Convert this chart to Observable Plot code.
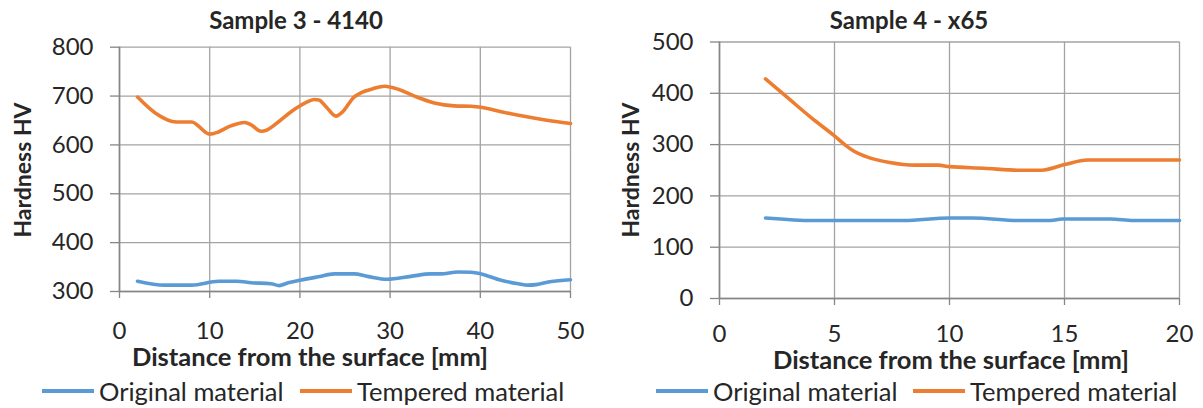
<!DOCTYPE html>
<html>
<head>
<meta charset="utf-8">
<script src="https://cdn.jsdelivr.net/npm/d3@7"></script>
<script src="https://cdn.jsdelivr.net/npm/@observablehq/plot@0.6"></script>
<style>
  html, body { margin: 0; padding: 0; background: #fff; }
  #wrap { position: relative; width: 1203px; height: 408px; overflow: hidden; font-family: Lato, "Open Sans", sans-serif; color: #262626; }
  .abs { position: absolute; white-space: nowrap; transform: translate(-50%, -50%); }
  .title { font-weight: bold; font-size: 24px; }
  .xlab { font-weight: bold; font-size: 25.5px; }
  .ylab { font-weight: bold; font-size: 23px; transform: translate(-50%, -50%) rotate(-90deg); }
  .leg { position: absolute; font-size: 25.5px; white-space: nowrap; display: flex; align-items: center; transform: translateY(-50%); }
  .sw { display: inline-block; width: 52px; height: 4px; margin-right: 5px; }
  .chart { position: absolute; top: 0; }
</style>
</head>
<body>
<div id="wrap">
  <div class="abs title" style="left:296px; top:19px">Sample 3 - 4140</div>
  <div class="abs title" style="left:909px; top:19px">Sample 4 - x65</div>
  <div class="abs ylab" style="left:22px; top:170px">Hardness HV</div>
  <div class="abs ylab" style="left:630px; top:170px">Hardness HV</div>
  <div class="abs xlab" style="left:310px; top:356px">Distance from the surface [mm]</div>
  <div class="abs xlab" style="left:951px; top:359px">Distance from the surface [mm]</div>
  <div class="leg" style="left:42px; top:391px"><span class="sw" style="background:#5b9bd5"></span>Original material</div>
  <div class="leg" style="left:300px; top:391px"><span class="sw" style="background:#ed7d31"></span>Tempered material</div>
  <div class="leg" style="left:656px; top:391px"><span class="sw" style="background:#5b9bd5"></span>Original material</div>
  <div class="leg" style="left:913px; top:391px"><span class="sw" style="background:#ed7d31"></span>Tempered material</div>
  <div id="c1" class="chart" style="left:0px"></div>
  <div id="c2" class="chart" style="left:600px"></div>
</div>
<script>
// ---- Sample 3 - 4140 ----
const s3OriginalX = [2, 5, 8, 11, 13, 14.6, 16.8, 17.7, 18.7, 20, 22, 23.8, 26, 27.5, 29.7, 32.3, 34.5, 35.6, 37.5, 39, 40.1, 42.3, 44.2, 45.3, 46.2, 47.7, 50];
const s3OriginalY = [321, 313, 313, 321, 321, 318, 316, 312, 318, 323, 330, 336, 336, 331, 325, 331, 336, 336, 340, 339.5, 336, 323, 316, 313, 314, 320, 324];
const s3TemperedX = [2, 4, 6.3, 8, 10, 10.9, 12.2, 13.9, 14.6, 15.7, 16.3, 17.6, 19.1, 20.6, 21.6, 22.1, 23, 24, 24.7, 26, 26.8, 28.1, 29.4, 30.9, 32.7, 34.9, 37.1, 39, 40.1, 42.3, 44.7, 47.2, 50];
const s3TemperedY = [698, 665, 647, 647, 622, 626, 638, 646, 641, 628, 630, 647, 669, 686, 693, 692, 676, 659, 667, 698, 707, 715, 720, 714, 700, 686, 680, 679, 677, 668, 659, 651, 644];
const s3XTicks = [0, 10, 20, 30, 40, 50];
const s3YTicks = [300, 400, 500, 600, 700, 800];

// ---- Sample 4 - x65 ----
const s4OriginalX = [2, 4.1, 8, 10, 11, 13, 14.4, 14.9, 17, 18, 20];
const s4OriginalY = [157, 152, 152, 157, 157, 152, 152, 155, 155, 152, 152];
const s4TemperedX = [2, 3, 4, 5, 5.5, 5.85, 6.35, 7.4, 8.5, 9.5, 10, 11.5, 13, 14, 15, 16, 17, 20];
const s4TemperedY = [428, 390, 352, 317, 298, 287, 277, 265, 260, 260, 257, 254, 250, 250, 261, 270, 270, 270];
const s4XTicks = [0, 5, 10, 15, 20];
const s4YTicks = [0, 100, 200, 300, 400, 500];

const blue = "#5b9bd5", orange = "#ed7d31";
const gridColor = "#a3a3a3", axisColor = "#868686";

function toRows(xs, ys) { return xs.map((x, i) => ({x, y: ys[i]})); }

function chart(opts) {
  const {width, height, ml, mr, mt, mb, xDomain, yDomain, xTicks, yTicks, orig, temp, xPad} = opts;
  return Plot.plot({
    width, height,
    marginLeft: ml, marginRight: mr, marginTop: mt, marginBottom: mb,
    x: {domain: xDomain},
    y: {domain: yDomain},
    style: {fontFamily: "Lato, 'Open Sans', sans-serif", fontSize: "24px", color: "#262626", background: "transparent", overflow: "visible"},
    marks: [
      Plot.gridX(xTicks, {stroke: gridColor, strokeOpacity: 1, strokeWidth: 1.3}),
      Plot.gridY(yTicks, {stroke: gridColor, strokeOpacity: 1, strokeWidth: 1.3}),
      Plot.axisX(xTicks, {tickSize: 7, tickPadding: xPad, label: null, stroke: axisColor, fill: "#262626", strokeWidth: 1.3}),
      Plot.axisY(yTicks, {tickSize: 9, tickPadding: 17, label: null, stroke: axisColor, fill: "#262626", strokeWidth: 1.3}),
      Plot.ruleX([xDomain[0]], {stroke: axisColor, strokeWidth: 1.6}),
      Plot.ruleY([yDomain[0]], {stroke: axisColor, strokeWidth: 1.6}),
      Plot.line(orig, {x: "x", y: "y", stroke: blue, strokeWidth: 3.6, curve: "monotone-x"}),
      Plot.line(temp, {x: "x", y: "y", stroke: orange, strokeWidth: 3.6, curve: "monotone-x"})
    ]
  });
}

document.getElementById("c1").appendChild(chart({
  width: 600, height: 375, ml: 119, mr: 30, mt: 46.7, mb: 84,
  xDomain: [0, 50], yDomain: [300, 800], xTicks: s3XTicks, yTicks: s3YTicks,
  orig: toRows(s3OriginalX, s3OriginalY), temp: toRows(s3TemperedX, s3TemperedY), xPad: 23
}));
document.getElementById("c2").appendChild(chart({
  width: 603, height: 375, ml: 119, mr: 24, mt: 41.5, mb: 77,
  xDomain: [0, 20], yDomain: [0, 500], xTicks: s4XTicks, yTicks: s4YTicks,
  orig: toRows(s4OriginalX, s4OriginalY), temp: toRows(s4TemperedX, s4TemperedY), xPad: 19
}));
</script>
</body>
</html>
